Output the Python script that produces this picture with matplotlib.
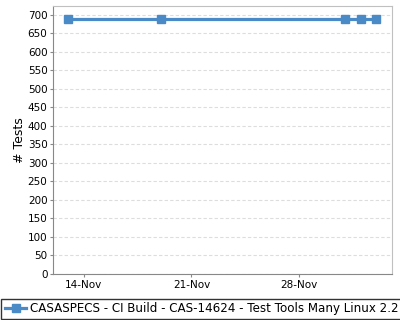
import matplotlib
matplotlib.use("Agg")
import matplotlib.pyplot as plt
import matplotlib.dates as mdates
import pandas as pd

# builds and test counts
dates = pd.to_datetime(["2018-11-13", "2018-11-19", "2018-12-01", "2018-12-02", "2018-12-03"])
tests = [690, 690, 690, 690, 690]
series_name = "CASASPECS - CI Build - CAS-14624 - Test Tools Many Linux 2.2"
tick_dates = pd.to_datetime(["2018-11-14", "2018-11-21", "2018-11-28"])
yticks = list(range(0, 701, 50))

fig = plt.figure(figsize=(4, 3.2), dpi=100)
ax = fig.add_axes([53/400, 1 - 274/320, (392 - 53)/400, (274 - 6)/320])

ax.plot(dates, tests, color="#4a8ac6", linewidth=2.3, marker="s", markersize=5.5,
        label=series_name)

ax.set_xlim(pd.Timestamp("2018-11-12"), pd.Timestamp("2018-12-04 01:00"))
ax.set_ylim(0, 724)
ax.set_xticks(tick_dates)
ax.xaxis.set_major_formatter(mdates.DateFormatter("%d-%b"))
ax.set_yticks(yticks)
ax.tick_params(labelsize=7.5, length=2, color="#888888", pad=2)
ax.set_ylabel("# Tests", fontsize=9, labelpad=1)

ax.grid(axis="y", color="#dddddd", linestyle=(0, (3, 2)), linewidth=0.8)
ax.set_axisbelow(True)
ax.spines["left"].set_color("#888888")
ax.spines["bottom"].set_color("#888888")
ax.spines["top"].set_color("#c0c0c0")
ax.spines["right"].set_color("#c0c0c0")

leg = fig.legend(loc="lower left", bbox_to_anchor=(0.0, 0.0), fontsize=8.6,
                 frameon=True, fancybox=False, edgecolor="black",
                 handlelength=1.8, handletextpad=0.3, borderpad=0.3,
                 borderaxespad=0.1)
leg.get_frame().set_linewidth(1.0)

fig.savefig("out.png", dpi=100)
